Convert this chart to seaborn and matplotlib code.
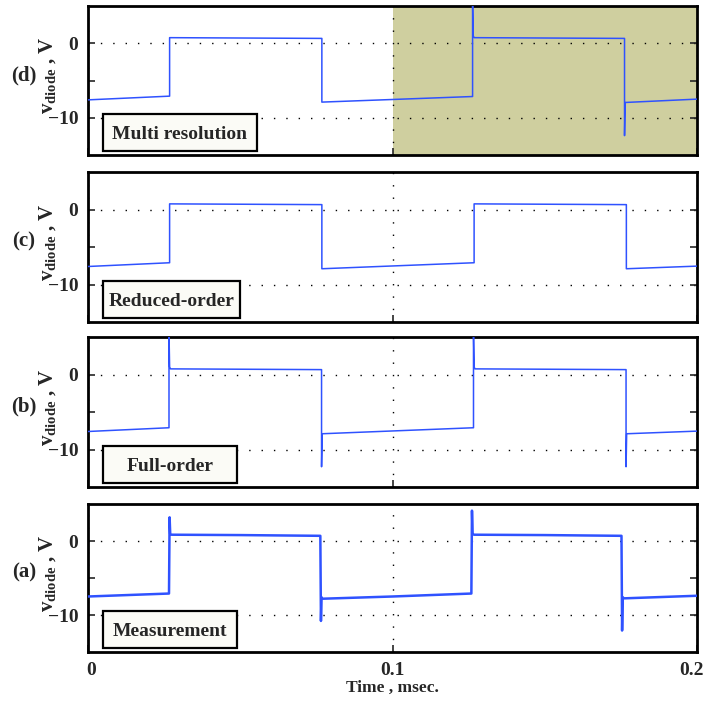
import matplotlib
matplotlib.use("Agg")
import matplotlib.pyplot as plt
import matplotlib.ticker as mticker
import matplotlib.transforms as mtransforms
from matplotlib.patches import Rectangle
import seaborn as sns
import pandas as pd

# time axis in msec, diode voltage in V
t_multi = [0, 0.0268, 0.0268, 0.0768, 0.0768, 0.1263, 0.1263, 0.1265, 0.1268,
           0.1762, 0.1762, 0.1764, 0.2]
v_multi = [-7.6, -7.1, 0.75, 0.65, -7.9, -7.15, 5.5, 1.0, 0.75,
           0.65, -12.4, -7.95, -7.5]

t_reduced = [0, 0.0268, 0.0268, 0.0768, 0.0768, 0.1268, 0.1268, 0.1768, 0.1768, 0.2]
v_reduced = [-7.6, -7.1, 0.75, 0.65, -7.9, -7.1, 0.75, 0.65, -7.9, -7.55]

t_full = [0, 0.0266, 0.0266, 0.0268, 0.0271, 0.0767, 0.0767, 0.0769,
          0.1266, 0.1266, 0.1268, 0.1271, 0.1767, 0.1767, 0.1769, 0.2]
v_full = [-7.6, -7.1, 5.5, 1.0, 0.75, 0.65, -12.3, -7.9,
          -7.1, 5.5, 1.0, 0.75, 0.65, -12.3, -7.9, -7.55]

t_meas = [0, 0.0266, 0.0268, 0.0270, 0.0274, 0.0500, 0.0763, 0.0765, 0.0767, 0.0770,
          0.1000, 0.1259, 0.1261, 0.1263, 0.1268, 0.1500, 0.1752, 0.1754, 0.1756, 0.1760, 0.2]
v_meas = [-7.5, -7.1, 3.2, 0.95, 0.85, 0.8, 0.7, -10.8, -7.6, -7.8,
          -7.5, -7.1, 4.1, 0.95, 0.85, 0.8, 0.7, -12.1, -7.6, -7.75, -7.4]

panel_tags = ["(d)", "(c)", "(b)", "(a)"]
panel_names = ["Multi resolution", "Reduced-order", "Full-order", "Measurement"]
x_ticks = [0, 0.1, 0.2]
x_tick_labels = ["0", "0.1", "0.2"]
y_ticks = [-10, 0]
y_minor_ticks = [-5]

series = [(t_multi, v_multi), (t_reduced, v_reduced), (t_full, v_full), (t_meas, v_meas)]

sns.set_style("ticks")
plt.rcParams["font.family"] = ["Liberation Serif", "DejaVu Serif"]
plt.rcParams["mathtext.fontset"] = "custom"
plt.rcParams["mathtext.rm"] = "Liberation Serif"
plt.rcParams["mathtext.bf"] = "Liberation Serif:bold"
plt.rcParams["mathtext.it"] = "Liberation Serif:italic"

fig = plt.figure(figsize=(7.06, 7.02), dpi=100)
W, H = 706, 702
left, right = 88, 697
tops = [6, 172, 337, 504]
bottoms = [155, 322, 487, 652]
box_right = [257, 240, 237, 237]   # pixel right edge of each caption box

line_color = "#2F52FF"
span_color = "#CFCF9F"

for i, (t, v) in enumerate(series):
    ax_w = right - left
    ax_h = bottoms[i] - tops[i]
    ax = fig.add_axes([left / W, 1 - bottoms[i] / H, ax_w / W, ax_h / H])
    df = pd.DataFrame({"t": t, "v": v})
    if i == 0:
        ax.axvspan(0.1, 0.2, color=span_color, lw=0, zorder=0.5)
    sns.lineplot(data=df, x="t", y="v", ax=ax, estimator=None, sort=False,
                 color=line_color, lw=1.8 if i == 3 else 1.1, zorder=3)
    ax.set_xlim(0, 0.2)
    ax.set_ylim(-15, 5)
    ax.set_xticks(x_ticks)
    ax.yaxis.set_major_locator(mticker.FixedLocator(y_ticks))
    ax.yaxis.set_minor_locator(mticker.FixedLocator(y_minor_ticks))
    ax.yaxis.set_major_formatter(mticker.FuncFormatter(
        lambda val, pos: "0" if val == 0 else "\u2212%d" % abs(val)))
    ax.tick_params(axis="both", which="both", direction="in", length=5, width=1.2,
                   left=True, right=True, bottom=True, top=False, labelsize=14, pad=7)
    for lab in ax.get_yticklabels():
        lab.set_fontweight("bold")
    if i == 3:
        ax.set_xticklabels(x_tick_labels, fontweight="bold")
        labs = ax.get_xticklabels()
        labs[0].set_transform(labs[0].get_transform() +
                              mtransforms.ScaledTranslation(3 / 100, 0, fig.dpi_scale_trans))
        labs[-1].set_transform(labs[-1].get_transform() +
                               mtransforms.ScaledTranslation(-6 / 100, 0, fig.dpi_scale_trans))
        ax.set_xlabel("Time , msec.", fontsize=12.5, fontweight="bold", labelpad=1)
    else:
        ax.set_xticklabels([])
        ax.set_xlabel("")
    ax.grid(True, which="major", color="black", lw=1.0, linestyle=(0, (1, 7.9)))
    for sp in ax.spines.values():
        sp.set_linewidth(2.0)
        sp.set_color("black")
    ax.set_ylabel(r"$\mathbf{v}_{\mathbf{diode}}$ , V", fontsize=15, fontweight="bold")
    ax.yaxis.set_label_coords(-0.050, 0.535)
    ax.text(-0.105, 0.535, panel_tags[i], transform=ax.transAxes, ha="center",
            va="center", fontsize=15, fontweight="bold")
    # caption box
    bx0 = (103 - left) / ax_w
    bw = (box_right[i] - 103) / ax_w
    by0 = 4 / ax_h
    bh = 37 / ax_h
    ax.add_patch(Rectangle((bx0, by0), bw, bh, transform=ax.transAxes,
                           fc="#FBFBF6", ec="black", lw=1.6, zorder=5))
    ax.text(bx0 + bw / 2, by0 + bh / 2, panel_names[i], transform=ax.transAxes,
            ha="center", va="center_baseline", fontsize=14, fontweight="bold",
            zorder=6)

fig.savefig("out.png", dpi=100)
